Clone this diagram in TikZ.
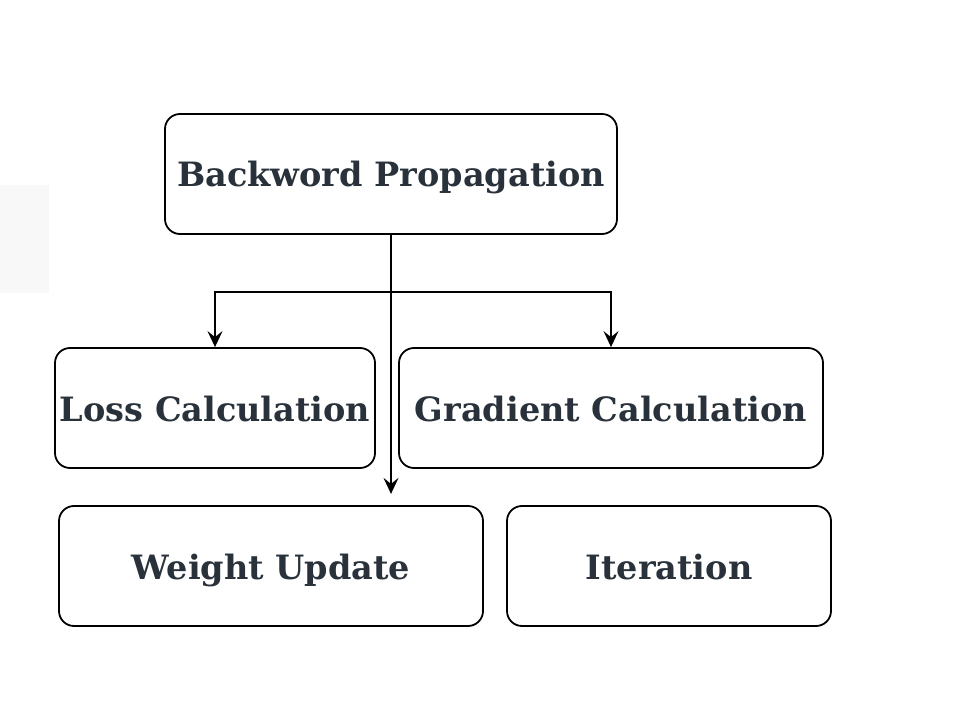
\documentclass[tikz,border=0pt]{standalone}
\usepackage{fontspec}
\setmainfont{DejaVu Serif}
\usetikzlibrary{calc,arrows.meta}
\definecolor{txtgris}{HTML}{29313A}
\definecolor{fondgris}{HTML}{F8F8F8}
\tikzset{
  etape/.style={draw,line width=1.8pt,rounded corners=15pt,minimum height=120pt,
    text=txtgris,font=\fontsize{33.5}{40}\selectfont\bfseries,inner sep=0pt,
    text height=26pt,text depth=0pt},
  fleche/.style={line width=1.8pt,-{Stealth[length=16pt,width=15pt,inset=6pt]}}
}
\begin{document}
\begin{tikzpicture}[x=1pt,y=-1pt]
	%\draw[help lines] (0,0) grid (980,708);
	\useasboundingbox (0,0) rectangle (980,708);
	%bande grise a gauche
	\fill[fondgris] (0,185) rectangle (49,293);

	%BOITES
	\node[etape,minimum width=452pt] (bp) at (391,174) {Backword Propagation};
	\node[etape,minimum width=320pt] (loss) at (215,408) {Loss Calculation};
	\node[etape,minimum width=424pt] (grad) at (611,408) {Gradient Calculation};
	\node[etape,minimum width=424pt] (maj) at (271,566) {Weight Update};
	\node[etape,minimum width=324pt] (iter) at (669,566) {Iteration};

	%FLECHES
	\coordinate (split) at ($(bp.south)+(0,57)$);
	\coordinate (bout) at ($(bp.south)+(0,259)$);
	\draw[line width=1.8pt] (bp.south) -- (split);
	\draw[fleche] (split) -| (loss.north);
	\draw[fleche] (split) -| (grad.north);
	\draw[fleche] (split) -- (bout);
\end{tikzpicture}
\end{document}
